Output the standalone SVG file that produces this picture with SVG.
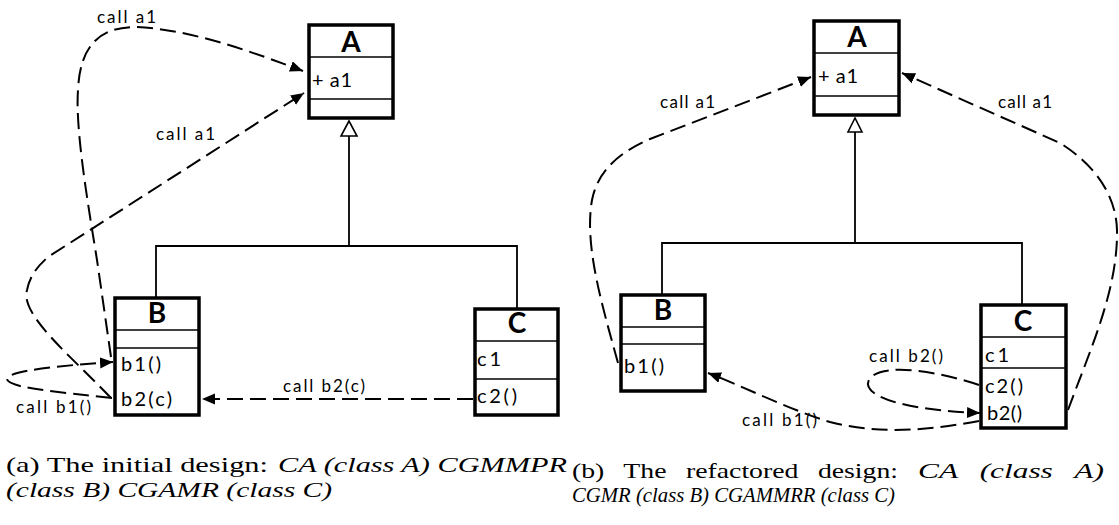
<svg xmlns="http://www.w3.org/2000/svg" width="1119" height="525" viewBox="0 0 1119 525">
<style>
.box{fill:#fff;stroke:#000;stroke-width:3.5}
.div{stroke:#000;stroke-width:1.5}
.title{font-family:Lato,"Liberation Sans",sans-serif;font-weight:bold;font-size:28px;text-anchor:middle;fill:#000}
.mem{font-family:Lato,"Liberation Sans",sans-serif;font-size:20px;fill:#000}
.lbl{font-family:Lato,"Liberation Sans",sans-serif;font-size:17px;fill:#000}
.gen{fill:none;stroke:#000;stroke-width:1.8}
.tri{fill:#fff;stroke:#000;stroke-width:1.6}
.call{fill:none;stroke:#000;stroke-width:2;stroke-dasharray:16 7}
.cap{font-family:"Liberation Serif","DejaVu Serif",serif;font-size:22px;fill:#000}
.it{font-style:italic}
.ws{word-spacing:10px}
</style>
<defs>
<marker id="ah" markerUnits="userSpaceOnUse" markerWidth="14" markerHeight="12" refX="13" refY="5.5" orient="auto">
<path d="M0,0 L13,5.5 L0,11 z" fill="#000"/>
</marker>
</defs>

<g id="left-A">
<rect class="box" x="309" y="25" width="84" height="93"/>
<line class="div" x1="309" y1="57" x2="393" y2="57"/>
<line class="div" x1="309" y1="99" x2="393" y2="99"/>
<text class="title" x="351" y="52">A</text>
<text class="mem" x="312" y="87" textLength="40">+ a1</text>
</g>
<g id="left-B">
<rect class="box" x="115" y="298" width="84" height="117"/>
<line class="div" x1="115" y1="330" x2="199" y2="330"/>
<line class="div" x1="115" y1="348" x2="199" y2="348"/>
<text class="title" x="157" y="323">B</text>
<text class="mem" x="121" y="371" textLength="40">b1()</text>
<text class="mem" x="121" y="406" textLength="51">b2(c)</text>
</g>
<g id="left-C">
<rect class="box" x="475" y="309" width="83" height="106"/>
<line class="div" x1="475" y1="341" x2="558" y2="341"/>
<line class="div" x1="475" y1="379" x2="558" y2="379"/>
<text class="title" x="517" y="333">C</text>
<text class="mem" x="477" y="366" textLength="24">c1</text>
<text class="mem" x="477" y="403" textLength="40">c2()</text>
</g>

<g id="right-A">
<rect class="box" x="814" y="21" width="85" height="94"/>
<line class="div" x1="814" y1="53" x2="899" y2="53"/>
<line class="div" x1="814" y1="96" x2="899" y2="96"/>
<text class="title" x="857" y="47">A</text>
<text class="mem" x="818" y="83" textLength="40">+ a1</text>
</g>
<g id="right-B">
<rect class="box" x="621" y="295" width="84" height="96"/>
<line class="div" x1="621" y1="327" x2="705" y2="327"/>
<line class="div" x1="621" y1="344" x2="705" y2="344"/>
<text class="title" x="663" y="320">B</text>
<text class="mem" x="624" y="373" textLength="40">b1()</text>
</g>
<g id="right-C">
<rect class="box" x="981" y="305" width="85" height="123"/>
<line class="div" x1="981" y1="337" x2="1066" y2="337"/>
<line class="div" x1="981" y1="368" x2="1066" y2="368"/>
<text class="title" x="1023" y="331">C</text>
<text class="mem" x="985" y="362" textLength="24">c1</text>
<text class="mem" x="985" y="393" textLength="38">c2()</text>
<text class="mem" x="987" y="420" textLength="35">b2()</text>
</g>

<g id="connectors">
<polygon class="tri" points="349,121 341,136 357,136"/>
<polyline class="gen" points="349,136 349,246"/>
<polyline class="gen" points="156,298 156,246 517,246 517,309"/>
<polygon class="tri" points="855,118 848,132 862,132"/>
<polyline class="gen" points="855,132 855,243"/>
<polyline class="gen" points="662,295 662,243 1022,243 1022,305"/>

<path class="call" marker-end="url(#ah)" d="M111,357 L97,260 C89,210 75,130 78,90 C80,45 100,28 133,27 C190,28 260,55 303,71"/>
<path class="call" marker-end="url(#ah)" d="M111,398 C70,355 20,315 27,290 C30,275 38,266 48,257 L304,93"/>
<path class="call" marker-end="url(#ah)" d="M112,398 C60,392 7,388 7,379 C7,370 70,365 113,362"/>
<path class="call" marker-end="url(#ah)" d="M473,399 L202,399"/>

<path class="call" marker-end="url(#ah)" d="M618,363 C602,305 584,245 592,200 C598,170 620,152 650,139 L811,77"/>
<path class="call" marker-end="url(#ah)" d="M1068,410 C1090,350 1118,290 1117,230 C1116,195 1095,165 1060,143 L902,73"/>
<path class="call" marker-end="url(#ah)" d="M979,421 C930,430 880,435 830,422 C790,410 740,385 708,373"/>
<path class="call" marker-end="url(#ah)" d="M979,385 C940,372 885,362 870,378 C858,395 900,410 980,413"/>

<text class="lbl" x="97" y="23" textLength="59">call a1</text>
<text class="lbl" x="156" y="140" textLength="59">call a1</text>
<text class="lbl" x="16" y="413" textLength="75">call b1()</text>
<text class="lbl" x="283" y="392" textLength="82">call b2(c)</text>
<text class="lbl" x="660" y="108" textLength="55">call a1</text>
<text class="lbl" x="998" y="108" textLength="54">call a1</text>
<text class="lbl" x="869" y="362" textLength="74">call b2()</text>
<text class="lbl" x="742" y="426" textLength="75">call b1()</text>
</g>

<g id="captions">
<text class="cap" x="6" y="472" textLength="262" lengthAdjust="spacingAndGlyphs">(a) The initial design:</text>
<text class="cap it" x="278" y="472" textLength="289" lengthAdjust="spacingAndGlyphs">CA (class A) CGMMPR</text>
<text class="cap it" x="6" y="497" textLength="326" lengthAdjust="spacingAndGlyphs">(class B) CGAMR (class C)</text>
<text class="cap ws" x="572" y="478" textLength="326" lengthAdjust="spacingAndGlyphs">(b) The refactored design:</text>
<text class="cap it ws" x="918" y="478" textLength="186" lengthAdjust="spacingAndGlyphs">CA (class A)</text>
<text class="cap it" x="572" y="502" textLength="323" lengthAdjust="spacingAndGlyphs">CGMR (class B) CGAMMRR (class C)</text>
</g>
</svg>
